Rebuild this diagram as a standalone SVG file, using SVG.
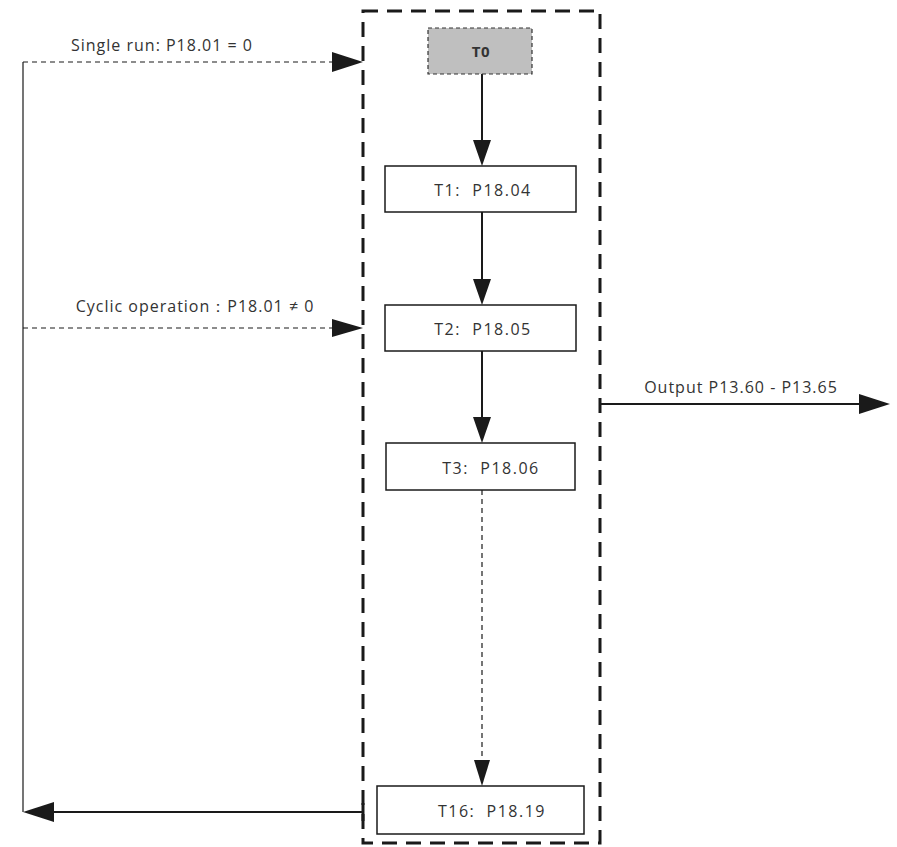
<svg xmlns="http://www.w3.org/2000/svg" width="897" height="847" viewBox="0 0 897 847">
<style>
text{font-family:"Open Sans","Liberation Sans",sans-serif;font-size:16px;fill:#333;text-anchor:middle;letter-spacing:1px}
.lbl{letter-spacing:1.5px}
.box{fill:#fff;stroke:#1a1a1a;stroke-width:1.5}
.ln{stroke:#1a1a1a;stroke-width:2;fill:none}
.thin{stroke:#1a1a1a;stroke-width:1.2;fill:none}
.dash{stroke:#1a1a1a;stroke-width:1.2;fill:none;stroke-dasharray:5,4}
.ah{fill:#1a1a1a}
</style>
<rect width="897" height="847" fill="#fff"/>
<rect id="frame" x="363" y="11" width="237" height="832" fill="none" stroke="#1a1a1a" stroke-width="3" stroke-dasharray="15,9"/>
<g id="connectors">
<path class="thin" d="M23,812 V62"/>
<path class="dash" d="M23,62 H333"/>
<polygon class="ah" points="332,52 363,62 332,72"/>
<path class="dash" d="M23,328 H333"/>
<polygon class="ah" points="332,319 363,328 332,337"/>
<path class="ln" d="M363,812 H53"/>
<line x1="363" y1="803" x2="363" y2="821" stroke="#1a1a1a" stroke-width="3"/>
<polygon class="ah" points="54,802 23,812 54,822"/>
<path class="ln" d="M600,404 H860"/>
<polygon class="ah" points="859,394 890,404 859,414"/>
<path class="ln" d="M482,74 V141"/>
<polygon class="ah" points="473,140 482,166 491,140"/>
<path class="ln" d="M482,212 V280"/>
<polygon class="ah" points="473,279 482,305 491,279"/>
<path class="ln" d="M482,351 V418"/>
<polygon class="ah" points="473,417 482,443 491,417"/>
<path class="dash" d="M482,490 V762"/>
<polygon class="ah" points="474,760 482,786 490,760"/>
</g>
<g id="T0">
<rect x="428" y="28" width="104" height="46" fill="#bfbfbf" stroke="#333" stroke-width="1.2" stroke-dasharray="4,3"/>
<text x="481" y="57" font-weight="bold" style="font-size:15px;letter-spacing:0.5px">T0</text>
</g>
<g id="T1">
<rect class="box" x="385" y="166" width="191" height="46"/>
<text class="lbl" x="483" y="196" xml:space="preserve">T1:  P18.04</text>
</g>
<g id="T2">
<rect class="box" x="385" y="305" width="191" height="46"/>
<text class="lbl" x="483" y="335" xml:space="preserve">T2:  P18.05</text>
</g>
<g id="T3">
<rect class="box" x="386" y="443" width="189" height="47"/>
<text class="lbl" x="491" y="474" xml:space="preserve">T3:  P18.06</text>
</g>
<g id="T16">
<rect class="box" x="377" y="786" width="207" height="48"/>
<text class="lbl" x="492" y="817" xml:space="preserve">T16:  P18.19</text>
</g>
<text x="162" y="51">Single run: P18.01 = 0</text>
<text x="195" y="312">Cyclic operation：P18.01 ≠ 0</text>
<text x="741" y="393">Output P13.60 - P13.65</text>
</svg>
